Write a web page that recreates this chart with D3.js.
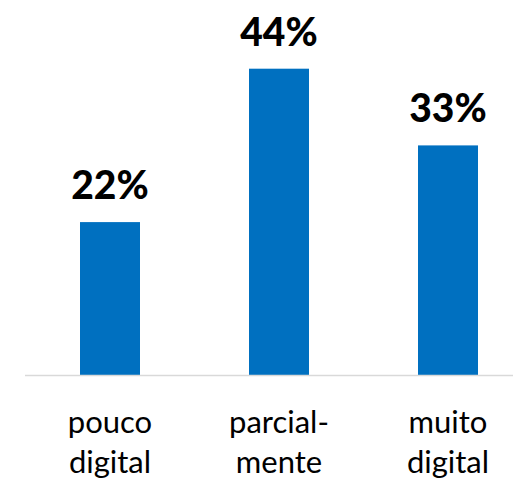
<!DOCTYPE html>
<html>
<head>
<meta charset="utf-8">
<script src="https://cdn.jsdelivr.net/npm/d3@7"></script>
<style>
    body { margin: 0; background: #fff; }
    svg { display: block; }
</style>
</head>
<body>
<div id="chart"></div>
<script>
// Chart data
const categories = [["pouco", "digital"], ["parcial-", "mente"], ["muito", "digital"]];
const values = [22.2, 44.4, 33.3];
const valueLabels = ["22%", "44%", "33%"];

const width = 513, height = 481;
const baseline = 375.5;

const svg = d3.select("#chart").append("svg")
    .attr("width", width)
    .attr("height", height);

const x = d3.scaleBand()
    .domain(d3.range(values.length))
    .range([25.5, 532.5])
    .paddingInner(0.645)
    .paddingOuter(0.3225);

const y = d3.scaleLinear()
    .domain([0, 50])
    .range([baseline, baseline - 345.5]);

// bars
svg.selectAll(".bar").data(values)
    .enter()
    .append("rect")
    .attr("class", "bar")
    .attr("x", (d, i) => x(i))
    .attr("width", x.bandwidth())
    .attr("y", d => y(d))
    .attr("height", d => y(0) - y(d))
    .attr("fill", "#0070C0");

// axis line
svg.append("line")
    .attr("x1", 25)
    .attr("x2", width)
    .attr("y1", baseline)
    .attr("y2", baseline)
    .attr("stroke", "#d9d9d9")
    .attr("stroke-width", 1.5);

// value labels
svg.selectAll(".value").data(values)
    .enter()
    .append("text")
    .attr("class", "value")
    .attr("x", (d, i) => x(i) + x.bandwidth() / 2)
    .attr("y", d => y(d) - 23)
    .attr("text-anchor", "middle")
    .attr("font-family", "Lato, 'Open Sans', sans-serif")
    .attr("font-weight", "900")
    .attr("font-size", "39px")
    .attr("fill", "#000")
    .text((d, i) => valueLabels[i]);

// category labels
const cat = svg.selectAll(".cat").data(categories)
    .enter()
    .append("text")
    .attr("class", "cat")
    .attr("text-anchor", "middle")
    .attr("font-family", "Lato, 'Open Sans', sans-serif")
    .attr("font-size", "31px")
    .attr("fill", "#000");

cat.selectAll("tspan").data((d, i) => d.map(t => ({t: t, i: i})))
    .enter()
    .append("tspan")
    .attr("x", d => x(d.i) + x.bandwidth() / 2)
    .attr("y", (d, j) => 433 + j * 40)
    .text(d => d.t);
</script>
</body>
</html>
